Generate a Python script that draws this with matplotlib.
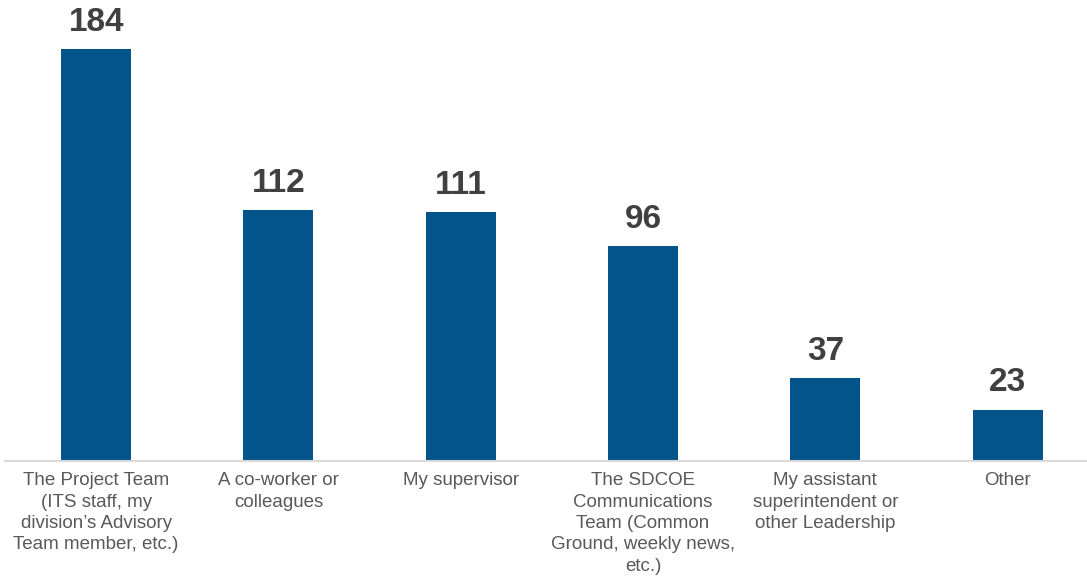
import matplotlib
matplotlib.use("Agg")
import matplotlib.pyplot as plt

categories = [
    "The Project Team\n(ITS staff, my\ndivision\u2019s Advisory\nTeam member, etc.)",
    "A co-worker or\ncolleagues",
    "My supervisor",
    "The SDCOE\nCommunications\nTeam (Common\nGround, weekly news,\netc.)",
    "My assistant\nsuperintendent or\nother Leadership",
    "Other",
]
counts = [184, 112, 111, 96, 37, 23]

plt.rcParams['font.family'] = ['Liberation Sans', 'DejaVu Sans']

W, H = 1087, 577
fig = plt.figure(figsize=(W / 100, H / 100), dpi=100)
ax = fig.add_axes([5 / W, 116 / H, 1082 / W, 461 / H])

x = range(len(counts))
bars = ax.bar(x, counts, width=0.384, color='#02548A', zorder=2)

ax.set_xlim(-0.5, -0.5 + 1082 / 182.3)
ax.set_ylim(0, 461 / 2.239)

for b, v in zip(bars, counts):
    ax.annotate(str(v), (b.get_x() + b.get_width() / 2, v), xytext=(0, 8),
                textcoords='offset points', ha='center', va='bottom',
                fontsize=24, fontweight='bold', color='#404040')

ax.set_xticks(list(x))
ax.set_xticklabels(categories, fontsize=13.5, color='#595959', linespacing=1.34)
ax.tick_params(axis='x', length=0, pad=8)
ax.set_yticks([])
for s in ['top', 'right', 'left']:
    ax.spines[s].set_visible(False)
ax.spines['bottom'].set_color('#D9D9D9')
ax.spines['bottom'].set_linewidth(1.5)

fig.savefig('out.png', dpi=100)
